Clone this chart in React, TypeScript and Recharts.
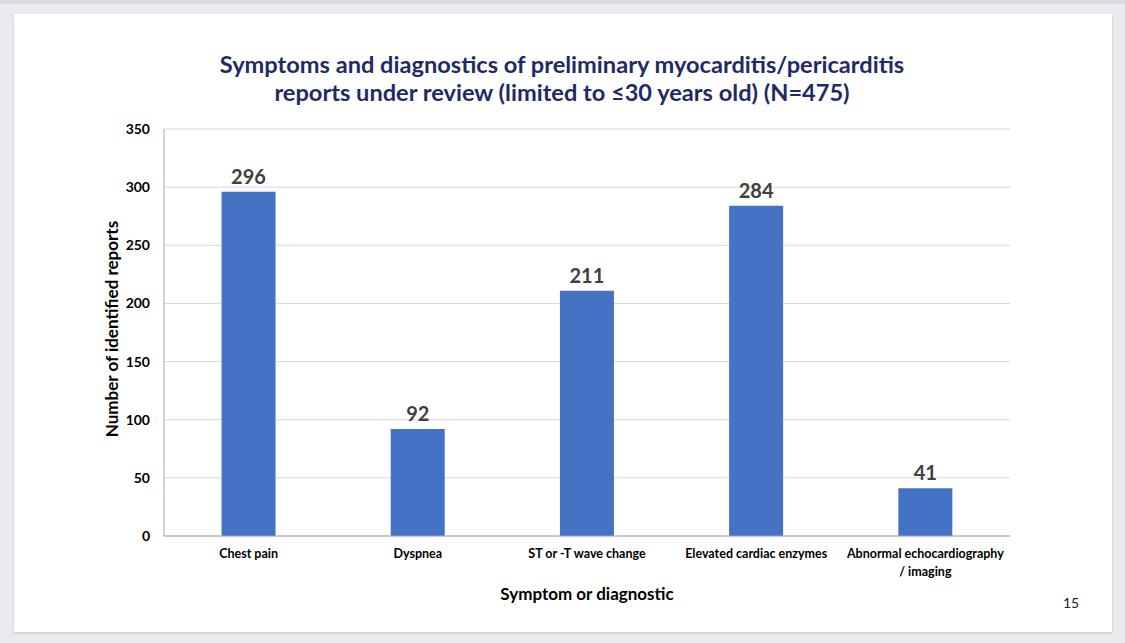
import React from 'react';
import { BarChart, Bar, XAxis, YAxis, CartesianGrid, LabelList } from 'recharts';

const categories = [
  'Chest pain',
  'Dyspnea',
  'ST or -T wave change',
  'Elevated cardiac enzymes',
  'Abnormal echocardiography\n/ imaging',
];
const reports = [296, 92, 211, 284, 41];
const yTicks = [0, 50, 100, 150, 200, 250, 300, 350];

const data = categories.map((c, i) => ({ name: c, value: reports[i] }));

const FONT = 'Lato, "Open Sans", sans-serif';

const CatTick = (props: any) => {
  const { x, y, payload } = props;
  const lines = String(payload.value).split('\n');
  return (
    <text x={x} y={y} textAnchor="middle" fontFamily={FONT} fontWeight={700} fontSize={12.5} fill="#000">
      {lines.map((l, i) => (
        <tspan key={i} x={x} dy={i === 0 ? 14 : 18}>
          {l}
        </tspan>
      ))}
    </text>
  );
};

export default function App() {
  return (
    <div style={{ position: 'absolute', left: 0, top: 0, width: 1125, height: 643, background: '#ebebef', overflow: 'hidden', fontFamily: FONT }}>
      <div style={{ position: 'absolute', left: 0, top: 0, width: 1125, height: 4, background: '#dcdce0' }} />
      <div style={{ position: 'absolute', left: 14, top: 14, width: 1098, height: 618, background: '#fff', boxShadow: '0 1px 3px rgba(0,0,0,0.18)' }} />
      <div style={{ position: 'absolute', left: 0, top: 50, width: 1124, textAlign: 'center', color: '#1f2a68', fontWeight: 700, fontSize: 23.6, lineHeight: '28px' }}>
        Symptoms and diagnostics of preliminary myocarditis/pericarditis
        <br />
        reports under review (limited to ≤30 years old) (N=475)
      </div>
      <div style={{ position: 'absolute', left: 0, top: 0 }}>
        <BarChart width={1125} height={643} data={data} margin={{ top: 129, right: 115, bottom: 47, left: 104 }} barCategoryGap="34%">
          <CartesianGrid vertical={false} stroke="#d9d9d9" />
          <XAxis dataKey="name" tick={<CatTick />} tickLine={false} axisLine={{ stroke: '#a6a6a6' }} interval={0} height={60} />
          <YAxis width={60} domain={[0, 350]} ticks={yTicks} tickLine={false} axisLine={{ stroke: '#a6a6a6' }} tickMargin={8}
            tick={{ fontFamily: FONT, fontWeight: 700, fontSize: 14, fill: '#000' }} />
          <Bar dataKey="value" fill="#4472c4" isAnimationActive={false}>
            <LabelList dataKey="value" position="top" offset={8} fill="#404040" fontSize={20} fontWeight={700} fontFamily={FONT} />
          </Bar>
        </BarChart>
      </div>
      <div style={{ position: 'absolute', left: 112 - 150, top: 329 - 11, width: 300, height: 22, textAlign: 'center', transform: 'rotate(-90deg)', fontWeight: 700, fontSize: 17, lineHeight: '22px', color: '#000' }}>
        Number of identified reports
      </div>
      <div style={{ position: 'absolute', left: 437, top: 583, width: 300, textAlign: 'center', fontWeight: 700, fontSize: 17, lineHeight: '22px', color: '#000' }}>
        Symptom or diagnostic
      </div>
      <div style={{ position: 'absolute', left: 1063, top: 594, fontSize: 14, lineHeight: '18px', color: '#222' }}>15</div>
    </div>
  );
}
